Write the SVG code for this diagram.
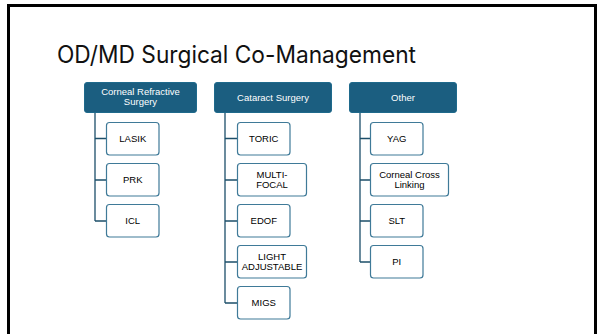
<svg xmlns="http://www.w3.org/2000/svg" width="603" height="334" viewBox="0 0 603 334">
<style>
.hdr{fill:#1b5e80;stroke:#1f6a8c;stroke-width:1}
.hdrt{fill:#ffffff;font-family:"Liberation Sans",Arial,sans-serif;font-size:9.5px;text-anchor:middle}
.box{fill:#ffffff;stroke:#3f7a98;stroke-width:1.2}
.boxt{fill:#000000;font-family:"Liberation Sans",Arial,sans-serif;font-size:9.5px;text-anchor:middle}
.con{fill:none;stroke:#1d4f6a;stroke-width:1.3}
</style>
<rect x="0" y="0" width="603" height="334" fill="#ffffff"/>
<path d="M8.5,340 V5.5 H595.5 V340" fill="none" stroke="#000000" stroke-width="3"/>
<text x="57" y="63" font-family="Inter,'Liberation Sans',Arial,sans-serif" font-size="24" fill="#111111" textLength="359" lengthAdjust="spacingAndGlyphs">OD/MD Surgical Co-Management</text>

<g id="connectors">
<path class="con" d="M95,113 V221 M95,138.5 H106 M95,180 H106 M95,221 H106"/>
<path class="con" d="M225,113 V303 M225,138.5 H237 M225,180 H237 M225,221 H237 M225,262 H237 M225,303 H237"/>
<path class="con" d="M360,113 V262 M360,138.5 H370 M360,180 H370 M360,221 H370 M360,262 H370"/>
</g>

<g id="h1"><rect class="hdr" x="84.5" y="82.5" width="112" height="30" rx="2.5"/><text class="hdrt" x="140.5" y="95">Corneal Refractive</text><text class="hdrt" x="140.5" y="105">Surgery</text></g>
<g id="h2"><rect class="hdr" x="214.5" y="82.5" width="117" height="30" rx="2.5"/><text class="hdrt" x="273" y="100.5">Cataract Surgery</text></g>
<g id="h3"><rect class="hdr" x="349.5" y="82.5" width="107" height="30" rx="2.5"/><text class="hdrt" x="403" y="100.5">Other</text></g>

<g id="lasik"><rect class="box" x="106.5" y="122.5" width="52.5" height="32.5" rx="3"/><text class="boxt" x="132.75" y="142">LASIK</text></g>
<g id="prk"><rect class="box" x="106.5" y="163.5" width="52.5" height="32.5" rx="3"/><text class="boxt" x="132.75" y="183">PRK</text></g>
<g id="icl"><rect class="box" x="106.5" y="204.5" width="52.5" height="32.5" rx="3"/><text class="boxt" x="132.75" y="224">ICL</text></g>

<g id="toric"><rect class="box" x="237.5" y="122.5" width="52.5" height="32.5" rx="3"/><text class="boxt" x="263.75" y="142">TORIC</text></g>
<g id="multifocal"><rect class="box" x="237.5" y="163.5" width="69" height="32.5" rx="3"/><text class="boxt" x="272" y="178">MULTI-</text><text class="boxt" x="272" y="188">FOCAL</text></g>
<g id="edof"><rect class="box" x="237.5" y="204.5" width="52.5" height="32.5" rx="3"/><text class="boxt" x="263.75" y="224">EDOF</text></g>
<g id="light"><rect class="box" x="237.5" y="245.5" width="69" height="32.5" rx="3"/><text class="boxt" x="272" y="260">LIGHT</text><text class="boxt" x="272" y="270">ADJUSTABLE</text></g>
<g id="migs"><rect class="box" x="237.5" y="286.5" width="52.5" height="32.5" rx="3"/><text class="boxt" x="263.75" y="306">MIGS</text></g>

<g id="yag"><rect class="box" x="370.5" y="122.5" width="52.5" height="32.5" rx="3"/><text class="boxt" x="396.75" y="142">YAG</text></g>
<g id="ccl"><rect class="box" x="370.5" y="163.5" width="78" height="32.5" rx="3"/><text class="boxt" x="409.5" y="178">Corneal Cross</text><text class="boxt" x="409.5" y="188">Linking</text></g>
<g id="slt"><rect class="box" x="370.5" y="204.5" width="52.5" height="32.5" rx="3"/><text class="boxt" x="396.75" y="224">SLT</text></g>
<g id="pi"><rect class="box" x="370.5" y="245.5" width="52.5" height="32.5" rx="3"/><text class="boxt" x="396.75" y="265">PI</text></g>
</svg>
